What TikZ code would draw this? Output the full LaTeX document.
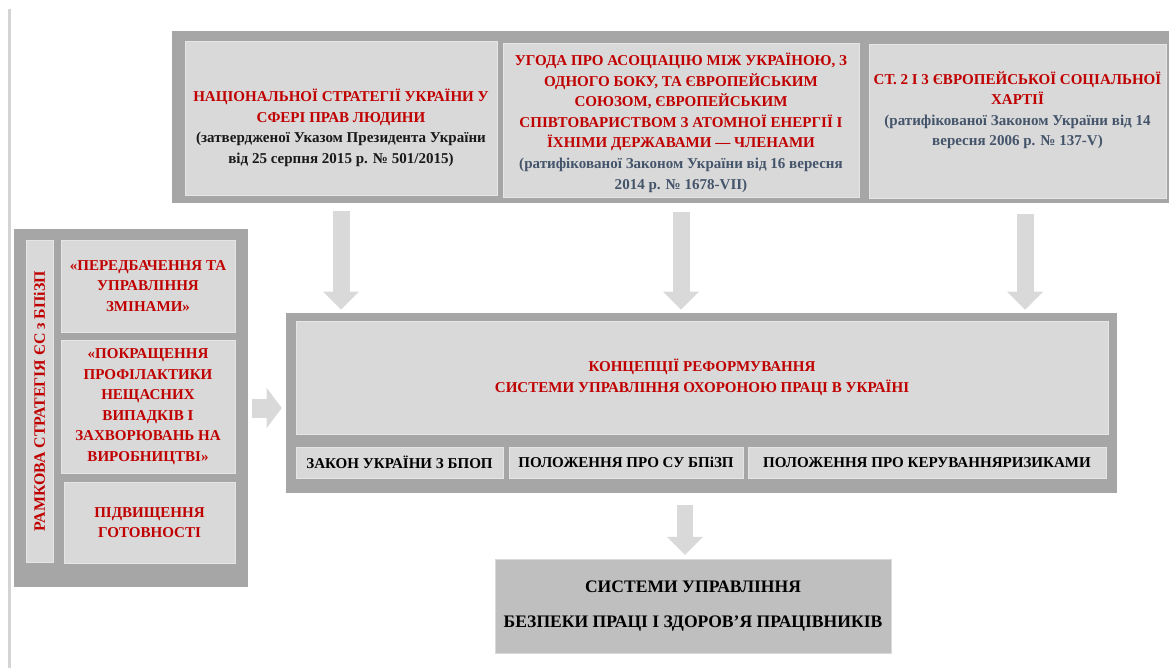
\documentclass[tikz,border=0pt]{standalone}
\usepackage{fontspec}
\setmainfont{Liberation Serif}
\usetikzlibrary{arrows.meta}

\definecolor{boxgray}{HTML}{D9D9D9}
\definecolor{framegray}{HTML}{A6A6A6}
\definecolor{resultgray}{HTML}{BFBFBF}
\definecolor{rulegray}{HTML}{D4D4D4}
\definecolor{titlered}{HTML}{C00000}
\definecolor{notegray}{HTML}{44546A}

\tikzset{
  frame/.style = {fill=framegray, inner sep=0pt},
  cell/.style = {fill=boxgray, draw=white!90!black, line width=0.3pt, inner sep=0pt},
  txt/.style = {align=center, font=\bfseries\fontsize{10.7}{14.6}\selectfont},
  fatarrow/.style = {color=boxgray, line width=#1},
  fatarrow/.default = 0.425cm
}

\begin{document}
\begin{tikzpicture}
        \useasboundingbox (0,0) rectangle (29.225,-16.7);
        \draw[line width=0.075cm, color=rulegray] (0.225,-0.225) -- (0.225,-16.7);

        \node[frame, minimum width=24.925cm, minimum height=4.3cm] (sources) at (16.7625,-2.925) {};
        \node[cell, minimum width=7.8cm, minimum height=3.85cm] (top1) at (8.525,-2.96) {};
        \node[cell, minimum width=8.9cm, minimum height=3.85cm] (top2) at (17.025,-3.0) {};
        \node[cell, minimum width=7.425cm, minimum height=3.85cm] (top3) at (25.4375,-3.04) {};

        \node[txt, text=titlered] (top1txt) at ([yshift=-0.24cm]top1.center)
          {НАЦІОНАЛЬНОЇ СТРАТЕГІЇ УКРАЇНИ У\\СФЕРІ ПРАВ ЛЮДИНИ\\
           \textcolor{black!90}{(затвердженої Указом Президента України}\\
           \textcolor{black!90}{від 25 серпня 2015 р. № 501/2015)}};
        \node[txt, text=titlered] (top2txt) at ([yshift=-0.07cm]top2.center)
          {УГОДА ПРО АСОЦІАЦІЮ МІЖ УКРАЇНОЮ, З\\ОДНОГО БОКУ, ТА ЄВРОПЕЙСЬКИМ\\
           СОЮЗОМ, ЄВРОПЕЙСЬКИМ\\СПІВТОВАРИСТВОМ З АТОМНОЇ ЕНЕРГІЇ І\\
           ЇХНІМИ ДЕРЖАВАМИ — ЧЛЕНАМИ\\
           \textcolor{notegray}{(ратифікованої Законом України від 16 вересня}\\
           \textcolor{notegray}{2014 р. № 1678-VII)}};
        \node[txt, text=titlered] (top3txt) at ([yshift=0.29cm]top3.center)
          {СТ. 2 І 3 ЄВРОПЕЙСЬКОЇ СОЦІАЛЬНОЇ\\ХАРТІЇ\\
           \textcolor{notegray}{(ратифікованої Законом України від 14}\\
           \textcolor{notegray}{вересня 2006 р. № 137-V)}};

        \node[frame, minimum width=5.85cm, minimum height=8.95cm] (left) at (3.275,-10.2) {};
        \node[cell, minimum width=8.05cm, minimum height=0.675cm, txt, text=titlered,
          font=\bfseries\fontsize{11.3}{13}\selectfont, rotate=90] (strip) at (0.9875,-10.025)
          {РАМКОВА СТРАТЕГІЯ ЄС з БПіЗП};
        \node[cell, txt, text=titlered, minimum width=4.35cm, minimum height=2.3cm] (foresee) at (3.7,-7.15)
          {«ПЕРЕДБАЧЕННЯ ТА\\УПРАВЛІННЯ\\ЗМІНАМИ»};
        \node[cell, txt, text=titlered, minimum width=4.35cm, minimum height=3.325cm] (prevent) at (3.7,-10.1625)
          {«ПОКРАЩЕННЯ\\ПРОФІЛАКТИКИ\\НЕЩАСНИХ\\ВИПАДКІВ І\\ЗАХВОРЮВАНЬ НА\\ВИРОБНИЦТВІ»};
        \node[cell, txt, text=titlered, minimum width=4.275cm, minimum height=2.025cm] (ready) at (3.7375,-13.0625)
          {ПІДВИЩЕННЯ\\ГОТОВНОСТІ};

        \node[frame, minimum width=20.775cm, minimum height=4.5cm] (centre) at (17.5375,-10.075) {};
        \node[cell, txt, text=titlered, minimum width=20.3cm, minimum height=2.825cm] (concept) at (17.55,-9.4375)
          {КОНЦЕПЦІЇ РЕФОРМУВАННЯ\\СИСТЕМИ УПРАВЛІННЯ ОХОРОНОЮ ПРАЦІ В УКРАЇНІ};
        \node[cell, txt, minimum width=5.175cm, minimum height=0.775cm] (law) at (9.9875,-11.5625)
          {ЗАКОН УКРАЇНИ З БПОП};
        \node[cell, txt, minimum width=5.85cm, minimum height=0.775cm] (rules) at (15.65,-11.5625)
          {ПОЛОЖЕННЯ ПРО СУ БПіЗП};
        \node[cell, txt, minimum width=8.95cm, minimum height=0.775cm] (risks) at (23.175,-11.5625)
          {ПОЛОЖЕННЯ ПРО КЕРУВАННЯРИЗИКАМИ};

        \node[fill=resultgray, draw=white!85!black, line width=0.3pt, inner sep=0pt, align=center,
          font=\bfseries\fontsize{12.5}{24.9}\selectfont, minimum width=9.9cm, minimum height=2.35cm]
          (result) at (17.325,-15.15)
          {СИСТЕМИ УПРАВЛІННЯ\\БЕЗПЕКИ ПРАЦІ І ЗДОРОВ’Я ПРАЦІВНИКІВ};

        \foreach \src/\dx in {top1/0, top2/0, top3/0.19}
        \draw[fatarrow, -{Triangle[width=0.9cm, length=0.45cm, line width=0pt]},
          shorten <=0.375cm, shorten >=0.075cm]
          ([xshift=\dx cm]\src.south) -- ([xshift=\dx cm]\src.south |- centre.north);

        \draw[fatarrow=0.475cm, -{Triangle[width=1.0cm, length=0.375cm, line width=0pt]},
          shorten <=0.1cm, shorten >=0.1cm] (left.east) -- (left.east -| centre.west);

        \draw[fatarrow=0.4cm, -{Triangle[width=0.9cm, length=0.45cm, line width=0pt]},
          shorten <=0.3cm, shorten >=0.1cm]
          ([xshift=-0.2cm]result.north |- centre.south) -- ([xshift=-0.2cm]result.north);
    \end{tikzpicture}
\end{document}
